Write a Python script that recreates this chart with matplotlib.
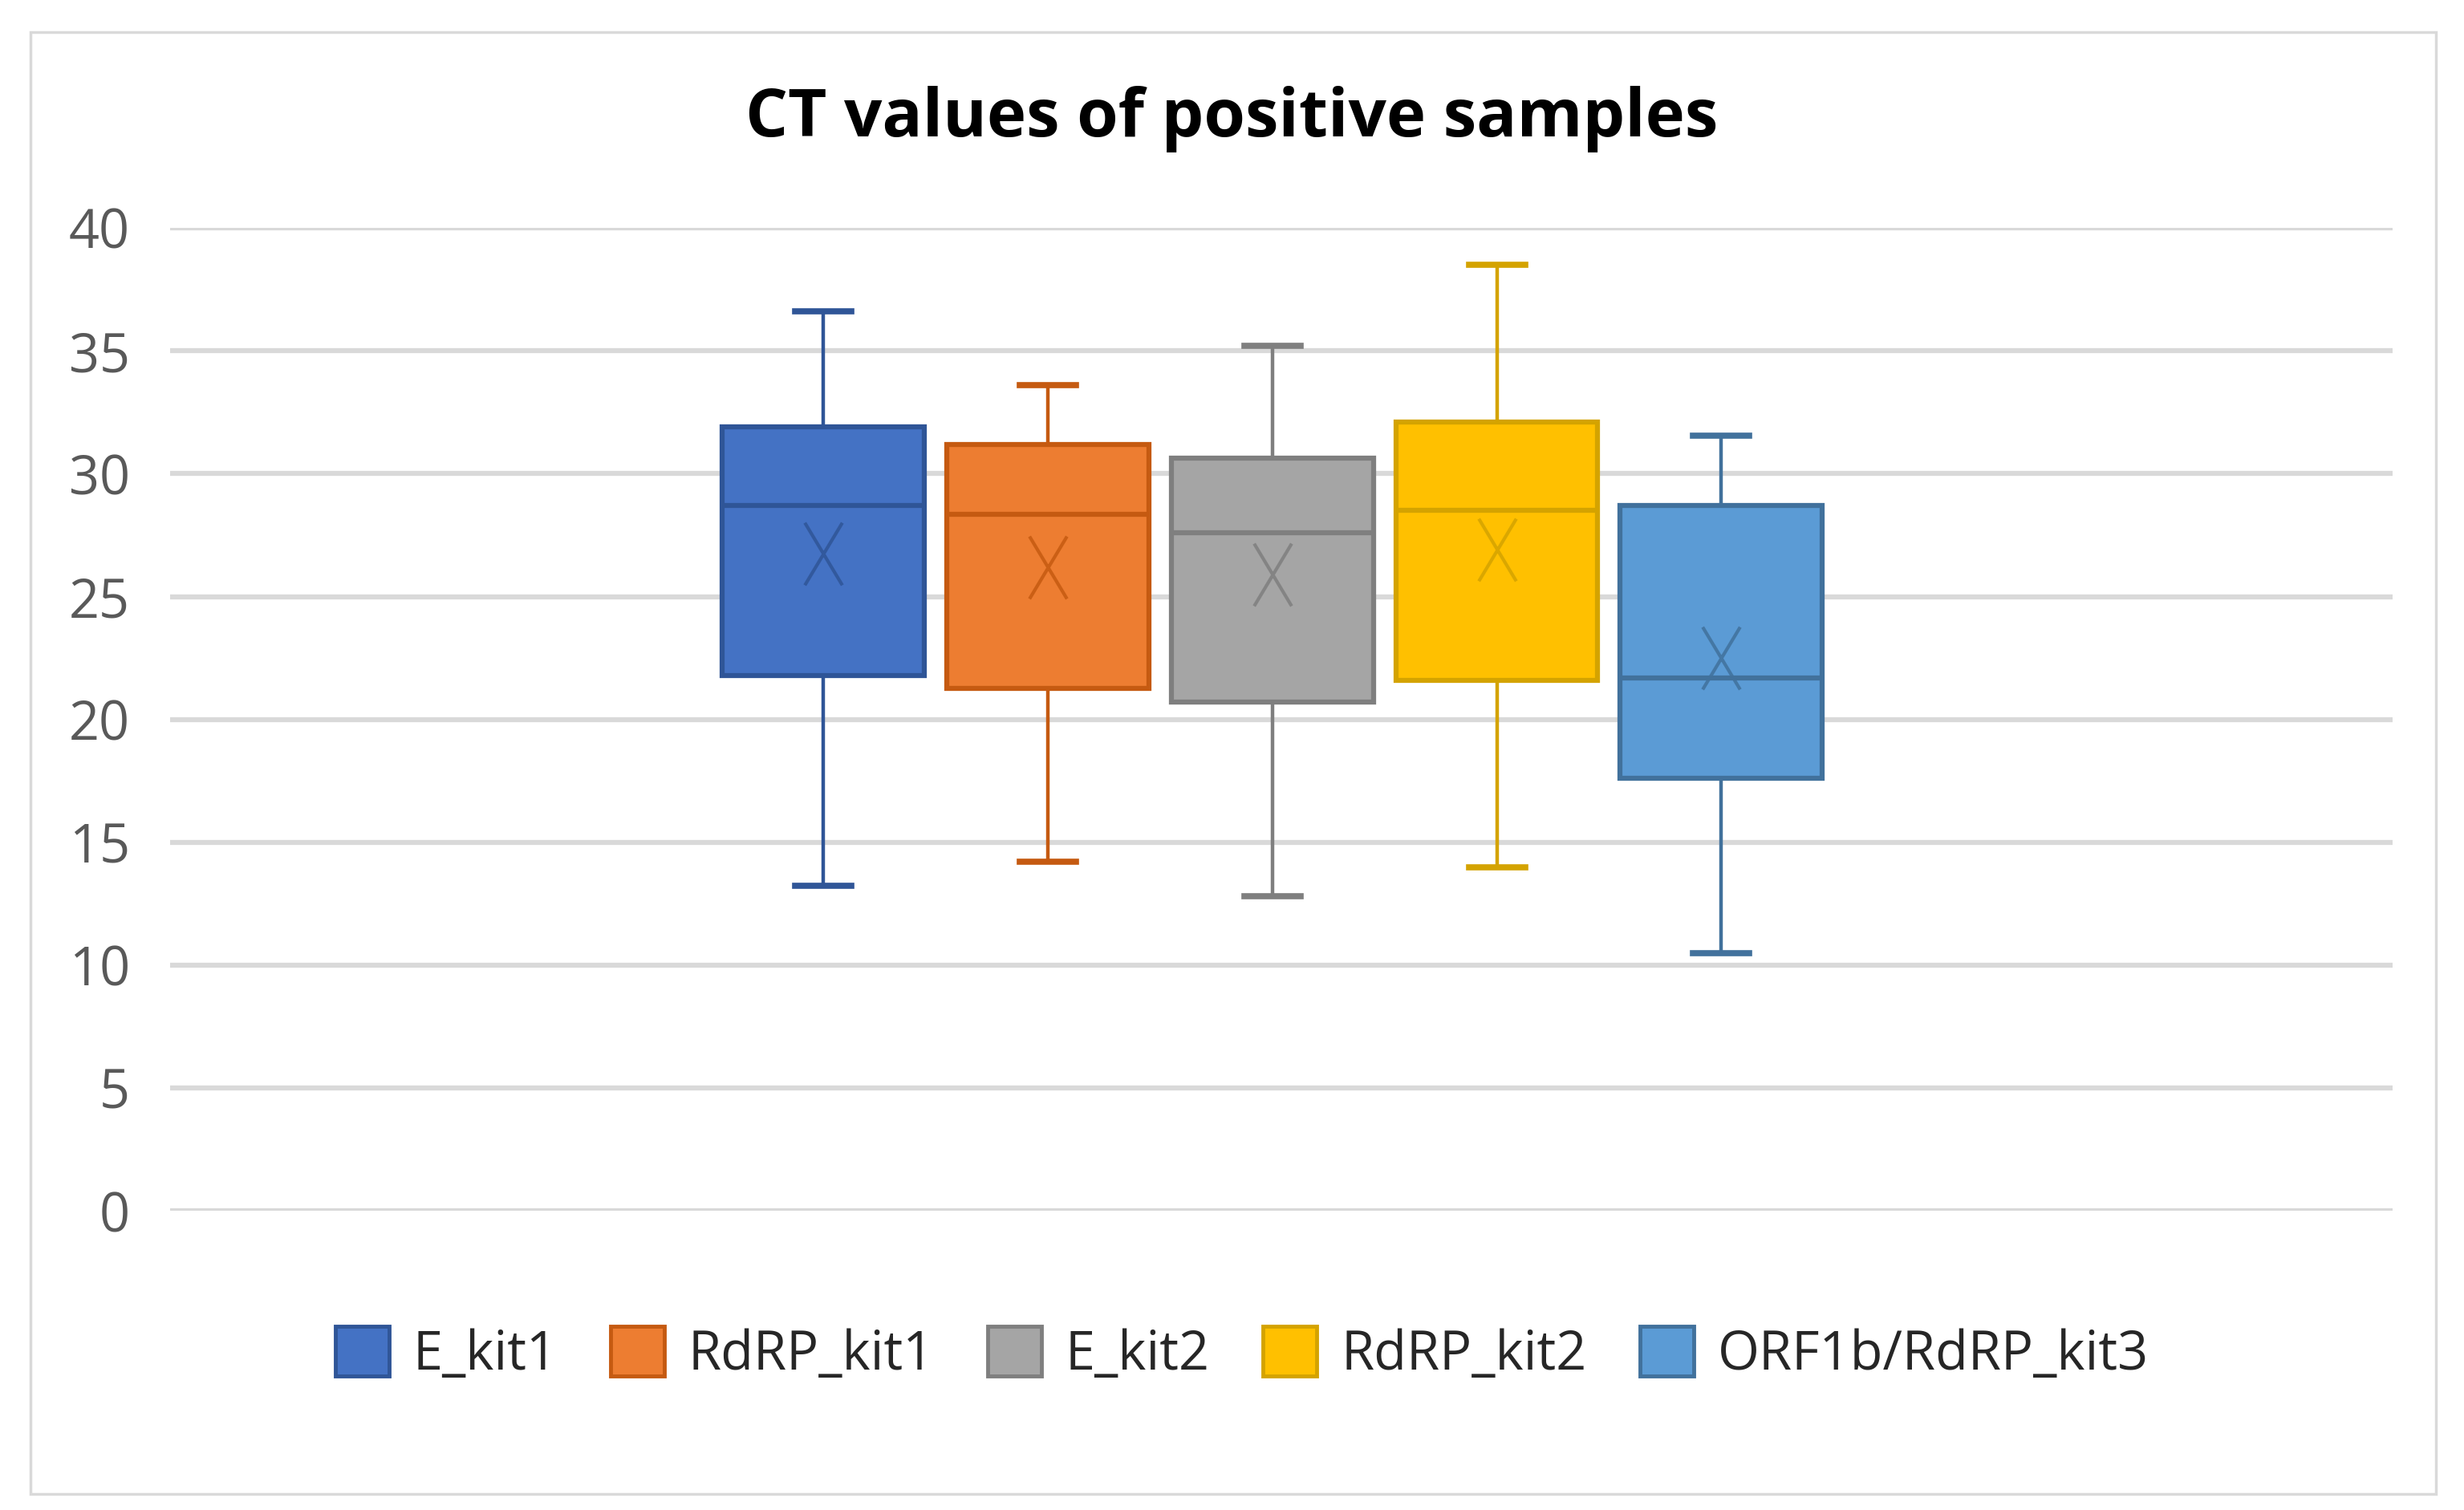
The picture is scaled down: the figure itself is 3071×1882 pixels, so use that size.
import matplotlib.pyplot as plt
from matplotlib.patches import Patch, Rectangle
from matplotlib.path import Path

# series names and box statistics
series = ["E_kit1", "RdRP_kit1", "E_kit2", "RdRP_kit2", "ORF1b/RdRP_kit3"]
whisker_low = [13.25, 14.2, 12.8, 14.0, 10.5]
q1 = [21.8, 21.25, 20.7, 21.6, 17.6]
median = [28.7, 28.35, 27.6, 28.5, 21.7]
q3 = [31.9, 31.2, 30.65, 32.1, 28.7]
whisker_high = [36.6, 33.6, 35.2, 38.5, 31.55]
mean = [26.75, 26.2, 25.9, 26.9, 22.5]

fill = ["#4472C4", "#ED7D31", "#A5A5A5", "#FFC000", "#5B9BD5"]
edge = ["#2F5597", "#C55A11", "#7F7F7F", "#D4A300", "#41719C"]

plt.rcParams['font.family'] = ['Open Sans', 'DejaVu Sans']

# tall "X" like the excel mean marker
x_marker = Path([(-0.6, -1), (0.6, 1), (-0.6, 1), (0.6, -1)],
                [Path.MOVETO, Path.LINETO, Path.MOVETO, Path.LINETO])

fig = plt.figure(figsize=(30.71, 18.82), dpi=100)
fig.patches.append(Rectangle((0.0125, 0.0105), 0.976, 0.968, transform=fig.transFigure,
                             fill=False, edgecolor="#d9d9d9", linewidth=2.5))
ax = fig.add_axes([0.069, 0.198, 0.902, 0.651])

positions = [-2, -1, 0, 1, 2]
for i, name in enumerate(series):
    st = [dict(whislo=whisker_low[i], q1=q1[i], med=median[i], q3=q3[i],
               whishi=whisker_high[i], mean=mean[i], fliers=[], label=name)]
    ax.bxp(st, positions=[positions[i]], widths=0.9, patch_artist=True,
           showmeans=True, meanline=False,
           boxprops=dict(facecolor=fill[i], edgecolor=edge[i], linewidth=4.5),
           medianprops=dict(color=edge[i], linewidth=4.5),
           whiskerprops=dict(color=edge[i], linewidth=3.2),
           capprops=dict(color=edge[i], linewidth=5.5),
           capwidths=0.25,
           meanprops=dict(marker=x_marker, markersize=56, markeredgecolor=edge[i],
                          markerfacecolor='none', markeredgewidth=3, alpha=0.85),
           zorder=3)

ax.set_xlim(-4.91, 4.99)
ax.set_ylim(0, 40)
ax.set_yticks(range(0, 41, 5))
ax.set_xticks([])
ax.grid(axis='y', color="#d9d9d9", linewidth=4.5, zorder=0)
ax.set_axisbelow(True)
for s in ax.spines.values():
    s.set_visible(False)
ax.tick_params(axis='y', length=0, labelsize=48, labelcolor="#595959", pad=36)

fig.suptitle("CT values of positive samples", x=0.5, y=0.921, va='center',
             fontsize=60, fontweight='bold', color="black")

handles = [Patch(facecolor=fill[i], edgecolor=edge[i], linewidth=3.5, label=series[i])
           for i in range(len(series))]
fig.legend(handles=handles, loc='center', bbox_to_anchor=(0.504, 0.103), ncol=5,
           frameon=False, fontsize=48, labelcolor="#262626", handlelength=1.0,
           handleheight=1.05, handletextpad=0.45, columnspacing=1.0)

fig.savefig("out.png", dpi=100)
